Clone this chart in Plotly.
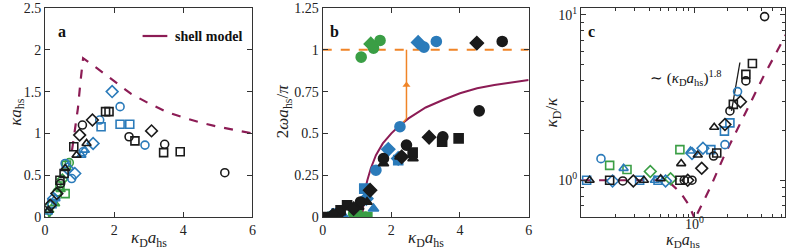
import math
import plotly.graph_objects as go

# ---------------- DATA ----------------
# Panel a : kappa*a_hs vs kappa_D*a_hs
shell_a_x = [0.78, 0.85, 0.95, 1.02, 1.10, 1.5, 2.0, 2.5, 3.0, 3.5, 4.0, 4.5, 5.0, 5.5, 6.0]
shell_a_y = [0.80, 1.00, 1.30, 1.60, 1.90, 1.78, 1.62, 1.47, 1.36, 1.26, 1.19, 1.13, 1.08, 1.04, 1.00]

a_black_circle_x = [0.45, 1.08, 2.43, 3.46, 5.2]
a_black_circle_y = [0.40, 1.10, 0.96, 0.87, 0.53]
a_black_square_x = [0.43, 0.55, 0.83, 1.75, 1.85, 2.6, 3.43, 3.91]
a_black_square_y = [0.44, 0.52, 0.84, 1.26, 1.26, 0.91, 0.77, 0.78]
a_black_diamond_x = [0.15, 0.34, 1.0, 1.37, 3.08]
a_black_diamond_y = [0.14, 0.28, 0.98, 1.16, 1.03]
a_black_triangle_x = [0.10, 0.58, 0.91, 1.20]
a_black_triangle_y = [0.08, 0.58, 0.74, 0.88]
a_blue_circle_x = [0.58, 0.77, 1.10, 1.58, 2.17, 2.89]
a_blue_circle_y = [0.64, 0.46, 0.78, 1.16, 1.32, 0.86]
a_blue_square_x = [0.20, 1.62, 2.17, 2.45]
a_blue_square_y = [0.16, 1.08, 1.11, 1.11]
a_blue_diamond_x = [0.25, 0.65, 0.86, 1.39, 1.94]
a_blue_diamond_y = [0.22, 0.58, 0.52, 0.88, 1.50]
a_blue_triangle_x = [0.08, 0.30, 1.05, 1.15]
a_blue_triangle_y = [0.06, 0.22, 0.74, 0.80]
a_green_square_x = [0.43, 0.58, 0.62]
a_green_square_y = [0.37, 0.28, 0.62]
a_green_triangle_x = [0.03, 0.12, 0.29, 0.45]
a_green_triangle_y = [0.01, 0.08, 0.16, 0.33]
a_green_diamond_x = [0.05, 0.20, 0.50]
a_green_diamond_y = [0.04, 0.15, 0.45]
a_green_circle_x = [0.35, 0.70]
a_green_circle_y = [0.30, 0.65]

# Panel b : 2*omega*a_hs/pi vs kappa_D*a_hs
shell_b_x = [1.15, 1.18, 1.22, 1.30, 1.40, 1.55, 1.75, 2.0, 2.2, 2.5, 3.0, 3.5, 4.0, 4.5, 5.0, 5.5, 6.0]
shell_b_y = [0.0, 0.08, 0.15, 0.22, 0.29, 0.37, 0.44, 0.50, 0.54, 0.59, 0.655, 0.70, 0.74, 0.77, 0.79, 0.805, 0.82]
limit_b_x = [0, 6]
limit_b_y = [1, 1]
jump_b_x = [2.25, 2.44, 2.44]
jump_b_y = [0.54, 0.59, 1.0]
arrow_b_x = [2.44]
arrow_b_y = [0.79]

b_green_circle_x = [1.12, 1.48, 1.67, 0.20, 0.50, 0.90, 1.25]
b_green_circle_y = [0.956, 1.01, 1.056, 0.0, 0.01, 0.02, 0.0]
b_green_diamond_x = [1.40]
b_green_diamond_y = [1.035]
b_green_square_x = [1.0, 1.3]
b_green_square_y = [0.01, 0.0]
b_blue_circle_x = [2.25, 2.95, 3.31, 1.55, 0.30]
b_blue_circle_y = [0.54, 1.016, 1.05, 0.28, 0.01]
b_blue_diamond_x = [2.78, 1.91, 1.27, 2.20]
b_blue_diamond_y = [1.044, 0.405, 0.11, 0.35]
b_blue_square_x = [1.21, 2.20, 0.40]
b_blue_square_y = [0.17, 0.34, 0.02]
b_blue_triangle_x = [1.48, 0.15, 0.60]
b_blue_triangle_y = [0.05, 0.0, 0.01]
b_black_circle_x = [5.23, 4.56, 3.50, 2.44, 1.77, 1.10, 0.50]
b_black_circle_y = [1.05, 0.635, 0.48, 0.43, 0.35, 0.09, 0.03]
b_black_diamond_x = [4.49, 3.10, 2.30, 1.38, 0.30, 0.90]
b_black_diamond_y = [1.04, 0.477, 0.36, 0.16, 0.01, 0.05]
b_black_square_x = [3.48, 3.96, 2.62, 0.71, 0.52, 0.10]
b_black_square_y = [0.45, 0.47, 0.385, 0.07, 0.04, 0.0]
b_black_triangle_x = [2.63, 1.77, 2.25, 1.29, 1.05, 0.20]
b_black_triangle_y = [0.35, 0.32, 0.36, 0.09, 0.06, 0.0]

# Panel c : kappa_D/kappa vs kappa_D*a_hs (log-log)
shell_c_x = [0.1, 0.3, 0.58, 0.76, 0.90, 1.0, 1.01, 1.06, 1.39, 1.82, 2.38, 2.73, 4.08, 7.0]
shell_c_y = [1.0, 1.0, 1.0, 0.84, 0.71, 0.60, 0.50, 0.62, 0.90, 1.37, 1.98, 2.44, 4.17, 8.3]
guide_c_x = [2.15, 2.55]
guide_c_y = [2.62, 5.14]
c_xtick_vals = [1]
c_xtick_text = ["10<sup>0</sup>"]

c_black_triangle_x = [0.119, 0.36, 0.507, 0.77, 1.08, 1.51]
c_black_triangle_y = [1.0, 1.0, 1.02, 1.26, 1.42, 2.09]
c_black_square_x = [0.179, 0.75, 1.59, 2.23, 2.88, 3.29]
c_black_square_y = [1.0, 1.0, 1.46, 2.87, 4.36, 5.07]
c_black_circle_x = [0.234, 0.82, 0.96, 1.49, 2.08, 2.88, 4.22]
c_black_circle_y = [0.99, 1.0, 1.0, 1.40, 2.62, 3.98, 9.73]
c_black_diamond_x = [0.29, 0.88, 1.17, 1.88, 2.58]
c_black_diamond_y = [0.99, 1.0, 1.18, 2.17, 2.98]
c_blue_square_x = [0.112, 0.33, 0.48, 1.41, 1.86, 2.08]
c_blue_square_y = [1.0, 1.0, 1.0, 1.53, 1.98, 2.22]
c_blue_circle_x = [0.15, 1.88, 2.43]
c_blue_circle_y = [1.35, 1.64, 3.43]
c_blue_diamond_x = [0.19, 0.56, 0.96, 1.20]
c_blue_diamond_y = [0.99, 0.99, 1.45, 1.56]
c_blue_triangle_x = [0.238, 0.45, 0.93]
c_blue_triangle_y = [1.18, 1.0, 1.50]
c_green_square_x = [0.179, 0.255, 0.75]
c_green_square_y = [1.23, 1.16, 1.53]
c_green_diamond_x = [0.41, 0.62]
c_green_diamond_y = [1.13, 1.02]

# ---------------- STYLE ----------------
BLACK = "#1a1a1a"
BLUE = "#2b7bba"
GREEN = "#3a9e45"
PURPLE = "#8c1c55"
ORANGE = "#f08427"
FONT = "Liberation Serif"

fig = go.Figure()


def pts(x, y, color, symbol, xa, ya, size=8, open_=True):
    fig.add_trace(go.Scatter(
        x=x, y=y, mode="markers", xaxis=xa, yaxis=ya, showlegend=False,
        marker=dict(symbol=symbol + ("-open" if open_ else ""), size=size, color=color,
                    line=dict(width=1.6, color=color)),
        cliponaxis=False if ya == "y3" else True))


def line(x, y, color, xa, ya, dash="solid", width=2):
    fig.add_trace(go.Scatter(x=x, y=y, mode="lines", xaxis=xa, yaxis=ya, showlegend=False,
                             line=dict(color=color, dash=dash, width=width)))

# Panel a
line(shell_a_x, shell_a_y, PURPLE, "x", "y", dash="dash", width=2.2)
pts(a_green_triangle_x, a_green_triangle_y, GREEN, "triangle-up", "x", "y")
pts(a_green_diamond_x, a_green_diamond_y, GREEN, "diamond", "x", "y")
pts(a_green_circle_x, a_green_circle_y, GREEN, "circle", "x", "y")
pts(a_green_square_x, a_green_square_y, GREEN, "square", "x", "y")
pts(a_blue_triangle_x, a_blue_triangle_y, BLUE, "triangle-up", "x", "y")
pts(a_blue_circle_x, a_blue_circle_y, BLUE, "circle", "x", "y")
pts(a_blue_square_x, a_blue_square_y, BLUE, "square", "x", "y")
pts(a_blue_diamond_x, a_blue_diamond_y, BLUE, "diamond", "x", "y", size=9)
pts(a_black_triangle_x, a_black_triangle_y, BLACK, "triangle-up", "x", "y")
pts(a_black_circle_x, a_black_circle_y, BLACK, "circle", "x", "y")
pts(a_black_square_x, a_black_square_y, BLACK, "square", "x", "y")
pts(a_black_diamond_x, a_black_diamond_y, BLACK, "diamond", "x", "y", size=9)

# Panel b
line(limit_b_x, limit_b_y, ORANGE, "x2", "y2", dash="dash", width=2)
line(shell_b_x, shell_b_y, PURPLE, "x2", "y2", width=2)
line(jump_b_x, jump_b_y, ORANGE, "x2", "y2", width=1.5)
fig.add_trace(go.Scatter(x=arrow_b_x, y=arrow_b_y, mode="markers", xaxis="x2", yaxis="y2",
                         showlegend=False, marker=dict(symbol="triangle-up", size=7, color=ORANGE)))
for xs, ys, c, s in [
    (b_green_square_x, b_green_square_y, GREEN, "square"),
    (b_green_circle_x, b_green_circle_y, GREEN, "circle"),
    (b_green_diamond_x, b_green_diamond_y, GREEN, "diamond"),
    (b_blue_triangle_x, b_blue_triangle_y, BLUE, "triangle-up"),
    (b_blue_square_x, b_blue_square_y, BLUE, "square"),
    (b_blue_circle_x, b_blue_circle_y, BLUE, "circle"),
    (b_blue_diamond_x, b_blue_diamond_y, BLUE, "diamond"),
    (b_black_triangle_x, b_black_triangle_y, BLACK, "triangle-up"),
    (b_black_square_x, b_black_square_y, BLACK, "square"),
    (b_black_circle_x, b_black_circle_y, BLACK, "circle"),
    (b_black_diamond_x, b_black_diamond_y, BLACK, "diamond"),
]:
    pts(xs, ys, c, s, "x2", "y2", size=10 if s in ("circle", "diamond") else 9, open_=False)

# Panel c
line(shell_c_x, shell_c_y, PURPLE, "x3", "y3", dash="dash", width=2.2)
line(guide_c_x, guide_c_y, BLACK, "x3", "y3", width=1.3)
for xs, ys, c, s in [
    (c_green_square_x, c_green_square_y, GREEN, "square"),
    (c_green_diamond_x, c_green_diamond_y, GREEN, "diamond"),
    (c_blue_triangle_x, c_blue_triangle_y, BLUE, "triangle-up"),
    (c_blue_circle_x, c_blue_circle_y, BLUE, "circle"),
    (c_blue_square_x, c_blue_square_y, BLUE, "square"),
    (c_blue_diamond_x, c_blue_diamond_y, BLUE, "diamond"),
    (c_black_triangle_x, c_black_triangle_y, BLACK, "triangle-up"),
    (c_black_circle_x, c_black_circle_y, BLACK, "circle"),
    (c_black_square_x, c_black_square_y, BLACK, "square"),
    (c_black_diamond_x, c_black_diamond_y, BLACK, "diamond"),
]:
    pts(xs, ys, c, s, "x3", "y3", size=9 if s == "diamond" else 8)

# ---------------- LAYOUT ----------------
W, H = 790, 250
T, B = 8, 33
PH = H - T - B


def px(xp):
    return xp / W


def py(yp):
    return (H - B - yp) / PH

axis_common = dict(showline=True, linecolor="#333", linewidth=1.2, mirror="allticks",
                   ticks="inside", ticklen=5, tickcolor="#333", showgrid=False, zeroline=False,
                   tickfont=dict(family=FONT, size=14, color="#222"))

fig.update_layout(
    width=W, height=H, margin=dict(l=0, r=0, t=T, b=B),
    paper_bgcolor="white", plot_bgcolor="white",
    xaxis=dict(domain=[px(41.5), px(251)], range=[0, 6], tickvals=[0, 2, 4, 6], anchor="y", **axis_common),
    yaxis=dict(domain=[0, 1], range=[0, 2.5], tickvals=[0, 0.5, 1, 1.5, 2, 2.5],
               ticktext=["0", "0.5", "1", "1.5", "2", "2.5"], anchor="x", **axis_common),
    xaxis2=dict(domain=[px(322), px(530)], range=[0, 6], tickvals=[0, 2, 4, 6], anchor="y2", **axis_common),
    yaxis2=dict(domain=[0, 1], range=[0, 1.25], tickvals=[0, 0.25, 0.5, 0.75, 1, 1.25],
                ticktext=["0", "0.25", "0.5", "0.75", "1", "1.25"], anchor="x2", **axis_common),
    xaxis3=dict(domain=[px(583), px(789)], type="log", range=[-1, 0.806], tickvals=c_xtick_vals,
                showticklabels=False, anchor="y3",
                minor=dict(ticks="inside", ticklen=3, tickcolor="#333",
                           tickvals=[0.2, 0.3, 0.4, 0.5, 0.6, 0.7, 0.8, 0.9, 2, 3, 4, 5, 6]),
                **axis_common),
    yaxis3=dict(domain=[0, 1], type="log", range=[-0.222, 1.04], tickvals=[1, 10],
                ticktext=["10<sup>0</sup>", "10<sup>1</sup>"], anchor="x3",
                minor=dict(ticks="inside", ticklen=3, tickcolor="#333",
                           tickvals=[0.7, 0.8, 0.9, 2, 3, 4, 5, 6, 7, 8, 9]),
                **axis_common),
)

# x tick label of panel c (annotation on a log axis -> log10 position)
for v, t in zip(c_xtick_vals, c_xtick_text):
    fig.add_annotation(xref="x3", yref="paper", x=math.log10(v), y=py(223), text=t, showarrow=False,
                       xanchor="center", yanchor="middle", font=dict(family=FONT, size=14, color="#222"))

title_font = dict(family=FONT, size=17, color="#222")
xt = "<i>κ</i><sub>D</sub><i>a</i><sub>hs</sub>"
ann = [
    dict(x=px(146), y=py(239), text=xt),
    dict(x=px(426), y=py(239), text=xt),
    dict(x=px(686), y=py(240), text=xt, font=dict(family=FONT, size=16, color="#222")),
    dict(x=px(13), y=py(112), text="<i>κa</i><sub>hs</sub>", textangle=-90),
    dict(x=px(283), y=py(112), text="2<i>ωa</i><sub>hs</sub>/<i>π</i>", textangle=-90),
    dict(x=px(555), y=py(112), text="<i>κ</i><sub>D</sub>/<i>κ</i>", textangle=-90),
]
for a in ann:
    a.setdefault("font", title_font)
    fig.add_annotation(xref="paper", yref="paper", showarrow=False,
                       xanchor="center", yanchor="middle", **a)

for lbl, xp in [("a", 53), ("b", 334), ("c", 599)]:
    fig.add_annotation(xref="paper", yref="paper", x=px(xp), y=py(21), text="<b>" + lbl + "</b>",
                       showarrow=False, font=dict(family=FONT, size=16, color="#111"))

# legend of panel a
fig.add_shape(type="line", xref="paper", yref="paper", x0=px(140), x1=px(165), y0=py(36), y1=py(36),
              line=dict(color=PURPLE, width=2.2))
fig.add_annotation(xref="paper", yref="paper", x=px(171), y=py(36), xanchor="left", yanchor="middle",
                   text="<b>shell model</b>", showarrow=False, font=dict(family=FONT, size=14, color="#111"))

# slope label in panel c
fig.add_annotation(xref="paper", yref="paper", x=px(727), y=py(78), xanchor="right", yanchor="middle",
                   text="∼ (<i>κ</i><sub>D</sub><i>a</i><sub>hs</sub>)<sup>1.8</sup>", showarrow=False,
                   font=dict(family=FONT, size=15, color="#111"))

fig.write_html("out.html", config={"displayModeBar": False},
               post_script="document.body.style.margin='0';document.body.style.overflow='hidden';")
